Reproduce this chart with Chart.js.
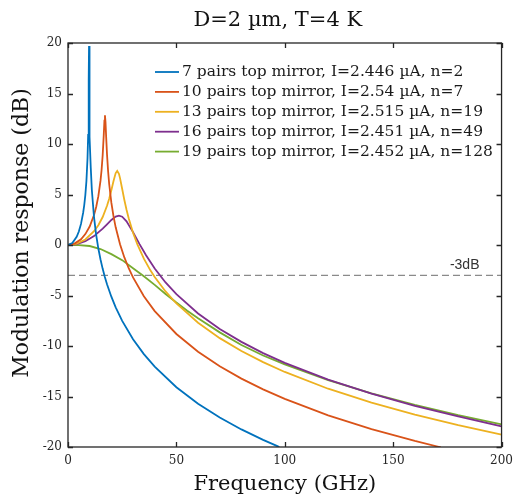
<!DOCTYPE html>
<html>
<head>
<meta charset="utf-8">
<script src="https://cdn.jsdelivr.net/npm/chart.js@4.4.1/dist/chart.umd.min.js"></script>
<style>
  html, body { margin: 0; padding: 0; background: #ffffff; }
  #wrap { width: 520px; height: 498px; }
</style>
</head>
<body>
<div id="wrap"><canvas id="c" width="520" height="498"></canvas></div>
<script>
// ---- Data ----
const titleText = 'D=2 \u00b5m, T=4 K';
const xTitle = 'Frequency (GHz)';
const yTitle = 'Modulation response (dB)';
const xTickValues = [0, 50, 100, 150, 200];
const yTickValues = [-20, -15, -10, -5, 0, 5, 10, 15, 20];

const seriesLabels = [
  '7 pairs top mirror, I=2.446 \u00b5A, n=2',
  '10 pairs top mirror, I=2.54 \u00b5A, n=7',
  '13 pairs top mirror, I=2.515 \u00b5A, n=19',
  '16 pairs top mirror, I=2.451 \u00b5A, n=49',
  '19 pairs top mirror, I=2.452 \u00b5A, n=128'
];
const seriesColors = ['#0072BD', '#D95319', '#EDB120', '#7E2F8E', '#77AC30'];

const freq7 = [0, 2, 4, 5, 6, 7, 7.5, 8, 8.5, 9, 9.3, 9.5, 9.6, 9.7, 9.8, 9.9, 10.1, 10.5, 11, 12, 13, 14, 15, 16, 17, 18, 20, 22, 25, 30, 35, 40, 50, 60, 70, 80, 90, 96.6, 97.5];
const resp7 = [0, 0.19, 0.81, 1.34, 2.09, 3.20, 3.96, 4.95, 6.34, 8.57, 10.89, 13.75, 16.36, 19.70, 16.31, 13.66, 10.71, 7.65, 5.44, 2.75, 0.99, -0.35, -1.43, -2.36, -3.16, -3.88, -5.12, -6.17, -7.51, -9.33, -10.80, -12.04, -14.08, -15.71, -17.08, -18.26, -19.30, -19.92, -20.0];

const freq10 = [0, 3, 6, 8, 10, 12, 13, 14, 15, 15.5, 16, 16.5, 16.8, 17.05, 17.3, 17.6, 18, 18.5, 19, 20, 21, 22, 24, 26, 28, 30, 35, 40, 50, 60, 70, 80, 90, 100, 120, 140, 160, 170, 172];
const resp10 = [0, 0.14, 0.57, 1.08, 1.83, 2.97, 3.76, 4.83, 6.37, 7.45, 8.90, 10.91, 12.30, 12.84, 12.18, 10.72, 8.96, 7.30, 6.04, 4.19, 2.83, 1.75, 0.07, -1.23, -2.30, -3.21, -5.07, -6.54, -8.81, -10.56, -12.00, -13.23, -14.29, -15.24, -16.86, -18.22, -19.40, -19.93, -20.03];

const freq13 = [0, 4, 8, 12, 14, 16, 18, 19, 20, 21, 22, 22.7, 23.5, 24, 25, 26, 27, 28, 30, 32, 35, 38, 40, 45, 50, 60, 70, 80, 90, 100, 120, 140, 160, 180, 200];
const resp13 = [0, 0.13, 0.55, 1.36, 1.96, 2.77, 3.88, 4.59, 5.42, 6.33, 7.12, 7.33, 7.04, 6.62, 5.54, 4.46, 3.49, 2.64, 1.21, 0.06, -1.35, -2.51, -3.17, -4.60, -5.79, -7.70, -9.22, -10.50, -11.60, -12.57, -14.23, -15.61, -16.80, -17.84, -18.77];

const freq16 = [0, 4, 8, 12, 16, 18, 20, 22, 23.5, 25, 27, 30, 33, 36, 40, 45, 50, 60, 70, 80, 90, 100, 120, 140, 160, 180, 200];
const resp16 = [0, 0.09, 0.38, 0.88, 1.62, 2.05, 2.48, 2.81, 2.90, 2.80, 2.35, 1.28, 0.09, -1.02, -2.33, -3.71, -4.87, -6.78, -8.31, -9.59, -10.70, -11.67, -13.33, -14.72, -15.93, -16.98, -17.95];

const freq19 = [0, 5, 10, 15, 20, 25, 30, 35, 40, 45, 50, 55, 60, 70, 80, 90, 100, 120, 140, 160, 180, 200];
const resp19 = [0, -0.02, -0.10, -0.40, -0.90, -1.50, -2.30, -3.10, -3.95, -4.85, -5.70, -6.50, -7.25, -8.65, -9.90, -10.94, -11.82, -13.37, -14.68, -15.83, -16.84, -17.75];

const refFreq = [0, 200];
const refLevel = [-3, -3];
const refLabel = '-3dB';
const refLabelPos = [183, -2.0];

// ---- Build chart ----
const freqs = [freq7, freq10, freq13, freq16, freq19];
const resps = [resp7, resp10, resp13, resp16, resp19];
const toXY = (xs, ys) => xs.map((x, i) => ({ x: x, y: ys[i] }));

const datasets = freqs.map((fx, k) => ({
  label: seriesLabels[k],
  data: toXY(fx, resps[k]),
  borderColor: seriesColors[k],
  backgroundColor: seriesColors[k],
  borderWidth: 1.8,
  pointRadius: 0,
  tension: 0,
  fill: false,
  isSeries: true
}));
datasets.push({
  label: refLabel,
  data: toXY(refFreq, refLevel),
  borderColor: '#8a8a8a',
  borderWidth: 1.3,
  borderDash: [7, 4],
  pointRadius: 0,
  fill: false,
  isSeries: false
});

const AXIS = '#262626';
const SERIF = "'DejaVu Serif', serif";

const framePlugin = {
  id: 'frame',
  afterDatasetsDraw(chart) {
    const ctx = chart.ctx;
    const a = chart.chartArea;
    const xs = chart.scales.x, ys = chart.scales.y;
    ctx.save();
    // -3 dB label
    ctx.fillStyle = '#333333';
    ctx.font = "14px 'Liberation Sans', Arial, sans-serif";
    ctx.textAlign = 'center';
    ctx.textBaseline = 'middle';
    ctx.fillText(refLabel, xs.getPixelForValue(refLabelPos[0]), ys.getPixelForValue(refLabelPos[1]));

    // box
    ctx.strokeStyle = AXIS;
    ctx.lineWidth = 1.3;
    ctx.strokeRect(a.left, a.top, a.right - a.left, a.bottom - a.top);
    // inward ticks on all sides
    const tl = 5;
    ctx.beginPath();
    xTickValues.forEach(v => {
      const px = Math.round(xs.getPixelForValue(v)) + 0.5;
      ctx.moveTo(px, a.bottom); ctx.lineTo(px, a.bottom - tl);
      ctx.moveTo(px, a.top); ctx.lineTo(px, a.top + tl);
    });
    yTickValues.forEach(v => {
      const py = Math.round(ys.getPixelForValue(v)) + 0.5;
      ctx.moveTo(a.left, py); ctx.lineTo(a.left + tl, py);
      ctx.moveTo(a.right, py); ctx.lineTo(a.right - tl, py);
    });
    ctx.stroke();

    // legend (inside plot, no box)
    ctx.font = '15.5px ' + SERIF;
    ctx.textAlign = 'left';
    ctx.textBaseline = 'middle';
    const x0 = a.left + 87, x1 = a.left + 111, tx = a.left + 114;
    let k = 0;
    chart.data.datasets.forEach(ds => {
      if (!ds.isSeries) return;
      const y = a.top + 29 + k * 19.9;
      ctx.strokeStyle = ds.borderColor;
      ctx.lineWidth = 1.8;
      ctx.beginPath(); ctx.moveTo(x0, y); ctx.lineTo(x1, y); ctx.stroke();
      ctx.fillStyle = '#1a1a1a';
      ctx.fillText(ds.label, tx, y);
      k++;
    });

    // chart title (centred over the axes)
    ctx.fillStyle = '#111111';
    ctx.font = '21px ' + SERIF;
    ctx.textAlign = 'center';
    ctx.textBaseline = 'middle';
    ctx.fillText(titleText, (a.left + a.right) / 2 - 7, 21);

    // y-axis title
    ctx.save();
    ctx.translate(22, (a.top + a.bottom) / 2 - 12);
    ctx.rotate(-Math.PI / 2);
    ctx.font = '22px ' + SERIF;
    ctx.fillText(yTitle, 0, 0);
    ctx.restore();

    ctx.restore();
  }
};

new Chart(document.getElementById('c'), {
  type: 'line',
  data: { datasets: datasets },
  options: {
    responsive: false,
    animation: false,
    devicePixelRatio: 1,
    layout: { padding: { left: 0, right: 15, top: 43, bottom: 0 } },
    plugins: {
      legend: { display: false },
      tooltip: { enabled: false },
      title: { display: false }
    },
    scales: {
      x: {
        type: 'linear',
        min: 0, max: 200,
        afterBuildTicks: (s) => { s.ticks = xTickValues.map(v => ({ value: v })); },
        ticks: { color: AXIS, font: { family: SERIF, size: 12 }, padding: 7, maxRotation: 0 },
        grid: { display: false, drawTicks: false },
        border: { display: false },
        title: { display: true, text: xTitle, color: '#111111', font: { family: SERIF, size: 21 }, padding: { top: 0, bottom: 1 } },
        afterFit: (s) => { s.height = 51; }
      },
      y: {
        type: 'linear',
        min: -20, max: 20,
        afterBuildTicks: (s) => { s.ticks = yTickValues.map(v => ({ value: v })); },
        ticks: { color: AXIS, font: { family: SERIF, size: 12 }, padding: 6 },
        grid: { display: false, drawTicks: false },
        border: { display: false },
        title: { display: false },
        afterFit: (s) => { s.width = 68; }
      }
    }
  },
  plugins: [framePlugin]
});
</script>
</body>
</html>
